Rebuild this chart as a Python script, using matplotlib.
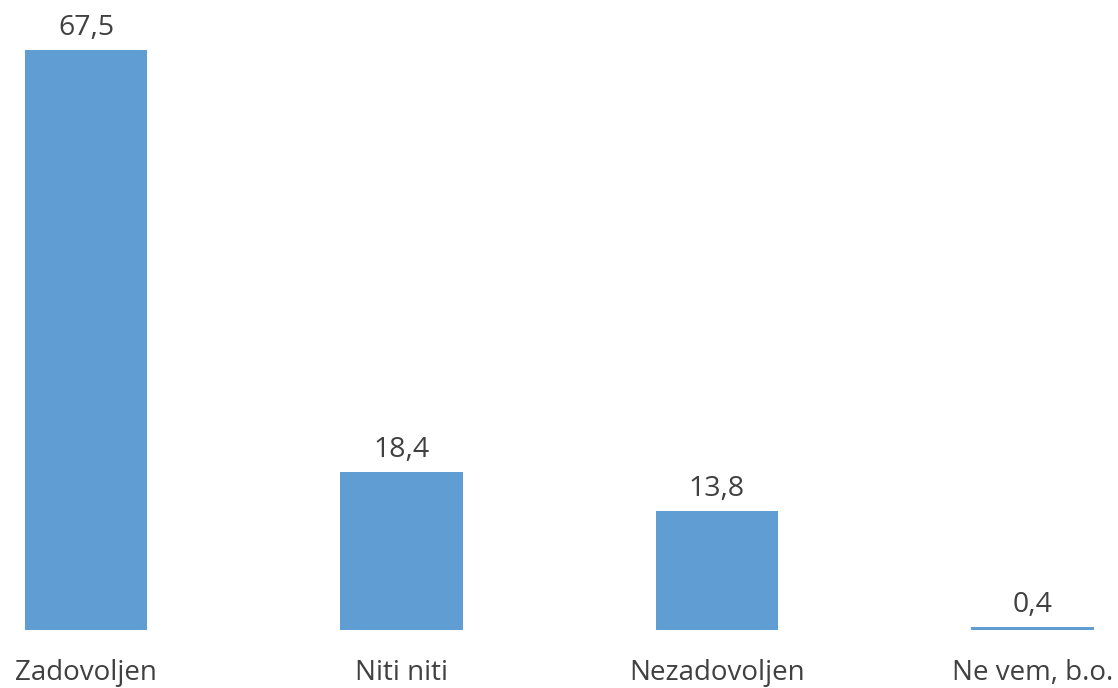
import matplotlib
matplotlib.use("Agg")
import matplotlib.pyplot as plt

categories = ["Zadovoljen", "Niti niti", "Nezadovoljen", "Ne vem, b.o."]
values = [67.5, 18.4, 13.8, 0.4]
value_labels = ["67,5", "18,4", "13,8", "0,4"]

plt.rcParams["font.family"] = ["Open Sans", "DejaVu Sans"]

fig = plt.figure(figsize=(11.18, 6.88), dpi=100)
ax = fig.add_axes([0, 0, 1, 1])

x = list(range(len(categories)))
bars = ax.bar(x, values, width=0.387, color="#5F9DD2")

for xi, v, lab in zip(x, values, value_labels):
    ax.text(xi, v + 1.75, lab, ha="center", va="baseline", fontsize=20.5, color="#404040")

for xi, cat in zip(x, categories):
    ax.text(xi, -5.82, cat, ha="center", va="baseline", fontsize=20, color="#404040")

ax.set_xlim(-0.2726, 3.271)
ax.set_ylim(-6.75, 73.32)
ax.axis("off")

fig.savefig("out.png", dpi=100)
